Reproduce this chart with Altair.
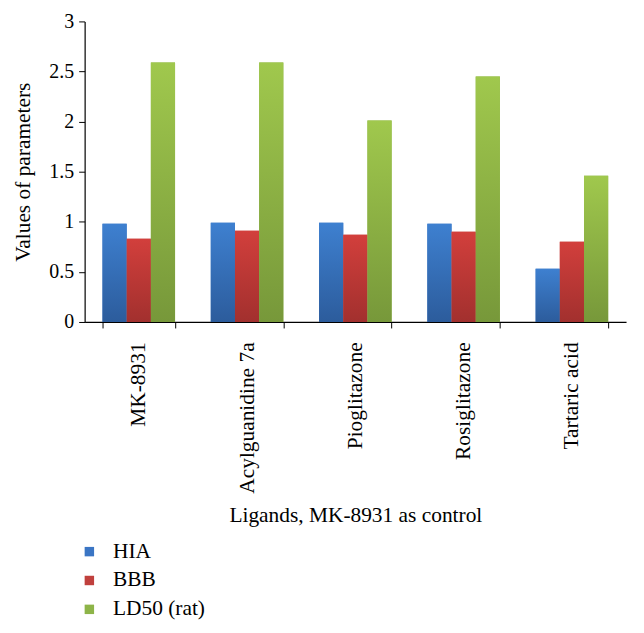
import altair as alt
import pandas as pd

ligands = ["MK-8931", "Acylguanidine 7a", "Pioglitazone", "Rosiglitazone", "Tartaric acid"]
series = ["HIA", "BBB", "LD50 (rat)"]
hia = [0.98, 0.99, 0.99, 0.98, 0.53]
bbb = [0.83, 0.91, 0.87, 0.90, 0.80]
ld50 = [2.59, 2.59, 2.01, 2.45, 1.46]
solid_colors = ["#3a75c4", "#c0403d", "#8db448"]
grad_stops = [("#3e80d0", "#2c5c9c"), ("#d23f3c", "#a2302e"), ("#a0c84d", "#77983a")]

rows = []
for s, vals in zip(series, [hia, bbb, ld50]):
    for lig, v in zip(ligands, vals):
        rows.append({"ligand": lig, "series": s, "value": v})
df = pd.DataFrame(rows)

FONT = "Liberation Serif"
TXT = 21.5

x_enc = alt.X(
    "ligand:N",
    sort=ligands,
    scale=alt.Scale(paddingInner=0.33, paddingOuter=0.165),
    axis=alt.Axis(
        title="Ligands, MK-8931 as control",
        labelAngle=270,
        labelAlign="right",
        labelBaseline="middle",
        labelFontSize=TXT,
        labelPadding=14,
        tickSize=6,
        tickBand="extent",
        titlePadding=11,
    ),
)
y_enc = alt.Y(
    "value:Q",
    scale=alt.Scale(domain=[0, 3], nice=False),
    axis=alt.Axis(
        title="Values of parameters",
        values=[0, 0.5, 1, 1.5, 2, 2.5, 3],
        format="~g",
        labelFontSize=20,
        tickSize=6,
        labelPadding=5,
        titlePadding=14,
    ),
)
xo = alt.XOffset("series:N", sort=series, scale=alt.Scale(domain=series, paddingInner=0, paddingOuter=0))

base = alt.Chart(df).mark_bar().encode(
    x=x_enc,
    y=y_enc,
    xOffset=xo,
    color=alt.Color(
        "series:N",
        sort=series,
        scale=alt.Scale(domain=series, range=solid_colors),
        legend=alt.Legend(
            title=None,
            orient="none",
            legendX=-6,
            legendY=522,
            direction="vertical",
            symbolType="square",
            symbolSize=90,
            symbolStrokeWidth=0,
            labelFontSize=TXT,
            labelFont=FONT,
            labelColor="black",
            labelOffset=13,
            rowPadding=6,
        ),
    ),
)

layers = [base]
for s, (c1, c2) in zip(series, grad_stops):
    grad = alt.Gradient(
        gradient="linear",
        x1=0, y1=0, x2=0, y2=1,
        stops=[alt.GradientStop(color=c1, offset=0), alt.GradientStop(color=c2, offset=1)],
    )
    layers.append(
        alt.Chart(df).transform_filter(alt.datum.series == s).mark_bar(color=grad).encode(
            x=alt.X("ligand:N", sort=ligands),
            y=alt.Y("value:Q"),
            xOffset=xo,
        )
    )

chart = alt.layer(*layers).properties(
    width=544,
    height=302,
    autosize=alt.AutoSizeParams(type="none"),
    padding={"left": 77, "top": 12, "right": 10, "bottom": 303},
).configure_axis(
    grid=False,
    labelFont=FONT,
    titleFont=FONT,
    titleFontSize=TXT,
    titleFontWeight="normal",
    labelColor="black",
    titleColor="black",
    domainColor="black",
    tickColor="black",
    domainWidth=1.2,
).configure_view(stroke=None)

chart.save("out.html", embed_options={"renderer": "svg", "actions": False})
